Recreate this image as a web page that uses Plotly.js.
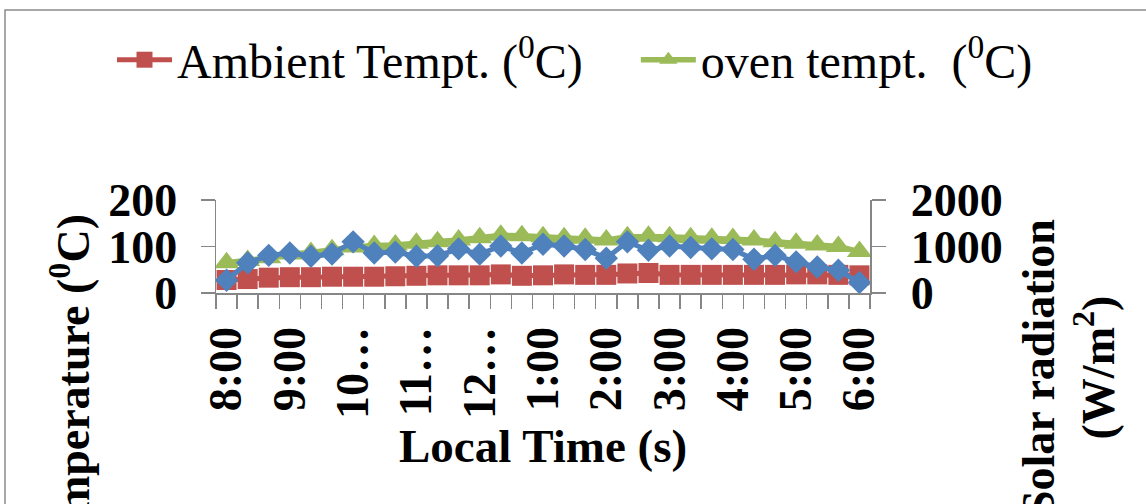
<!DOCTYPE html>
<html>
<head>
<meta charset="utf-8">
<script src="https://cdn.plot.ly/plotly-3.0.1.min.js"></script>
<style>
html,body{margin:0;padding:0;background:#ffffff;}
#chart{width:1146px;height:504px;}
</style>
</head>
<body>
<div id="chart"></div>
<script>
// ---- data ----
const categories = ["8:00","8:20","8:40","9:00","9:20","9:40","10:00","10:20","10:40","11:00","11:20","11:40",
  "12:00","12:20","12:40","1:00","1:20","1:40","2:00","2:20","2:40","3:00","3:20","3:40","4:00","4:20","4:40",
  "5:00","5:20","5:40","6:00"];
const labelledCategories = ["8:00","9:00","10:00","11:00","12:00","1:00","2:00","3:00","4:00","5:00","6:00"];
const tickLabels = ["8:00","9:00","10\u2026","11\u2026","12\u2026","1:00","2:00","3:00","4:00","5:00","6:00"];
const ambientTemp = [28,30,33,34,34,35,35,35,36,37,38,38,38,40,37,38,40,39,39,42,43,39,39,39,39,39,39,40,40,39,38];
const ovenTemp = [65,70,76,84,87,93,99,102,103,107,110,114,119,124,123,121,119,118,114,121,122,121,119,118,117,114,110,107,103,100,89];
const solarRadiation = [275,650,810,860,790,840,1100,860,880,790,800,950,835,1010,860,1050,1010,935,750,1100,920,1010,980,950,935,725,810,670,560,490,225];

const seriesNames = ["Ambient Tempt. (<sup>0</sup>C)", "oven tempt.  (<sup>0</sup>C)", "Solar radiation (W/m<sup>2</sup>)"];

// ---- build ----
const xIdx = categories.map((c, i) => i);
const tickVals = labelledCategories.map(c => categories.indexOf(c));
const GAP = "\u00A0\u00A0\u00A0\u00A0"; // extra spacing between legend entries

const FONT = "Liberation Serif, Times New Roman, serif";
const AXIS = "#868686";

const traces = [
  {
    x: xIdx, y: ambientTemp, name: seriesNames[0] + GAP, type: "scatter", mode: "lines+markers",
    line: {color: "#C0504D", width: 5},
    marker: {symbol: "square", size: 20, color: "#C0504D", line: {width: 0}},
    customdata: categories, hovertemplate: "%{customdata}: %{y}<extra></extra>"
  },
  {
    x: xIdx, y: ovenTemp, name: seriesNames[1], type: "scatter", mode: "lines+markers",
    line: {color: "#9BBB59", width: 5.5},
    marker: {symbol: "triangle-up", size: 22, color: "#9BBB59", line: {width: 0}},
    customdata: categories, hovertemplate: "%{customdata}: %{y}<extra></extra>"
  },
  {
    x: xIdx, y: solarRadiation, name: seriesNames[2], type: "scatter", mode: "lines+markers",
    yaxis: "y2", showlegend: false,
    line: {color: "#4F81BD", width: 5},
    marker: {symbol: "diamond", size: 18, color: "#4F81BD", line: {width: 0}},
    customdata: categories, hovertemplate: "%{customdata}: %{y}<extra></extra>"
  }
];

// plot area in pixels: x 216..870, y 200..293
const L = 216, R = 870, T = 200, B = 293, W = 1146, H = 504;
const px = x => (x - L) / (R - L);
const py = y => (B - y) / (B - T);

const tickFont = {family: FONT, size: 46, color: "#000", weight: "bold"};

const layout = {
  width: W, height: H,
  margin: {l: L, r: W - R, t: T, b: H - B, pad: 0},
  paper_bgcolor: "#ffffff", plot_bgcolor: "#ffffff",
  showlegend: true,
  legend: {
    orientation: "h", x: px(1038), xanchor: "right", y: py(60), yanchor: "middle",
    font: {family: FONT, size: 48, color: "#000"},
    itemwidth: 55, bgcolor: "rgba(0,0,0,0)", traceorder: "normal"
  },
  xaxis: {
    range: [-0.5, categories.length - 0.5],
    tickmode: "array", tickvals: tickVals, ticktext: tickLabels,
    tickangle: -90, ticks: "", ticklabelstandoff: 14,
    showline: true, linecolor: AXIS, linewidth: 1.5,
    showgrid: false, zeroline: false, fixedrange: true,
    tickfont: tickFont,
    minor: {tickmode: "linear", tick0: -0.5, dtick: 1, ticks: "outside", ticklen: 14, tickcolor: AXIS, tickwidth: 1.5, showgrid: false}
  },
  yaxis: {
    range: [0, 200], tickmode: "linear", tick0: 0, dtick: 100,
    ticks: "outside", ticklen: 14, tickcolor: AXIS, tickwidth: 1.5,
    showline: true, linecolor: AXIS, linewidth: 1.5,
    showgrid: false, zeroline: false, fixedrange: true,
    ticklabelstandoff: 14,
    tickfont: tickFont
  },
  yaxis2: {
    range: [0, 2000], tickmode: "linear", tick0: 0, dtick: 1000,
    overlaying: "y", side: "right",
    ticks: "outside", ticklen: 14, tickcolor: AXIS, tickwidth: 1.5,
    showline: true, linecolor: AXIS, linewidth: 1.5,
    showgrid: false, zeroline: false, fixedrange: true,
    ticklabelstandoff: 16,
    tickfont: tickFont
  },
  annotations: [
    {text: "Local Time (s)", xref: "paper", yref: "paper", x: 0.5, y: py(446),
     xanchor: "center", yanchor: "middle", showarrow: false,
     font: {family: FONT, size: 47, color: "#000", weight: "bold"}},
    {text: "Temperature (<sup>0</sup>C)", xref: "paper", yref: "paper", x: px(70), y: py(388),
     xanchor: "center", yanchor: "middle", textangle: -90, showarrow: false,
     font: {family: FONT, size: 46, color: "#000", weight: "bold"}},
    {text: "Solar radiation<br>(W/m<sup>2</sup>)", xref: "paper", yref: "paper", x: px(1068), y: py(368),
     xanchor: "center", yanchor: "middle", textangle: -90, showarrow: false,
     font: {family: FONT, size: 46, color: "#000", weight: "bold"}}
  ],
  shapes: [
    {type: "path", xref: "paper", yref: "paper",
     path: "M " + px(5) + " " + py(560) + " L " + px(5) + " " + py(10) + " L " + px(1180) + " " + py(10),
     line: {color: "#8a8a8a", width: 1.5}}
  ]
};

Plotly.newPlot("chart", traces, layout, {displayModeBar: false, staticPlot: true});
</script>
</body>
</html>
